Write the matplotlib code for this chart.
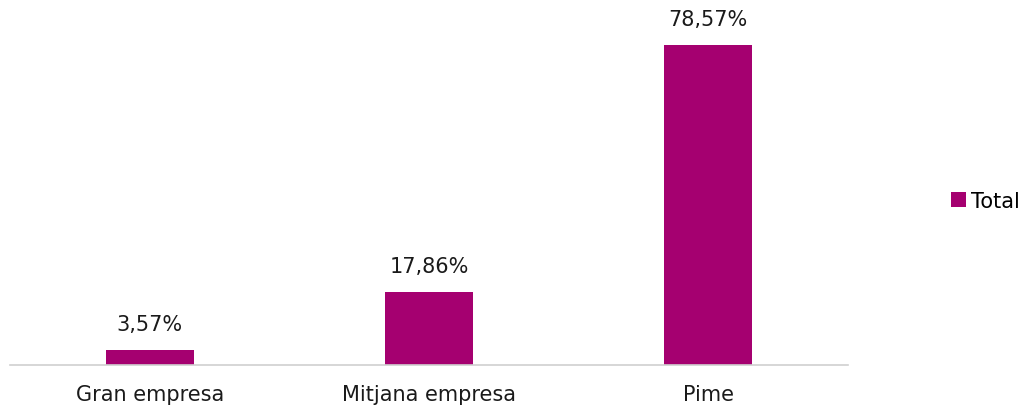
import matplotlib.pyplot as plt

# Company size distribution
categories = ["Gran empresa", "Mitjana empresa", "Pime"]
values = [3.57, 17.86, 78.57]
bar_color = "#A50070"

plt.rcParams['font.family'] = ['DejaVu Sans']

fig = plt.figure(figsize=(10.26, 4.10), dpi=100)
ax = fig.add_axes([10/1026, 44/410, 838/1026, 366/410])

x = range(len(categories))
bars = ax.bar(x, values, width=0.315, color=bar_color, label="Total")

for b, v in zip(bars, values):
    ax.annotate(f"{v:.2f}%".replace(".", ","),
                (b.get_x() + b.get_width()/2, v),
                xytext=(0, 11.5), textcoords="offset points",
                ha="center", va="bottom", fontsize=15, color="#1a1a1a")

ax.set_xlim(-0.5, 2.5)
ax.set_ylim(0, 89.9)
ax.set_xticks(list(x))
ax.set_xticklabels(categories, fontsize=15, color="#1a1a1a")
ax.tick_params(axis="x", length=0, pad=14)
ax.set_yticks([])
for s in ["top", "right", "left"]:
    ax.spines[s].set_visible(False)
ax.spines["bottom"].set_color("#d0d0d0")
ax.spines["bottom"].set_linewidth(1.2)

fig.legend(loc="center left", bbox_to_anchor=(941/1026, 1 - 202/410),
           frameon=False, fontsize=15, handlelength=0.7, handleheight=0.7,
           handletextpad=0.25, borderpad=0)

fig.savefig("out.png", dpi=100)
